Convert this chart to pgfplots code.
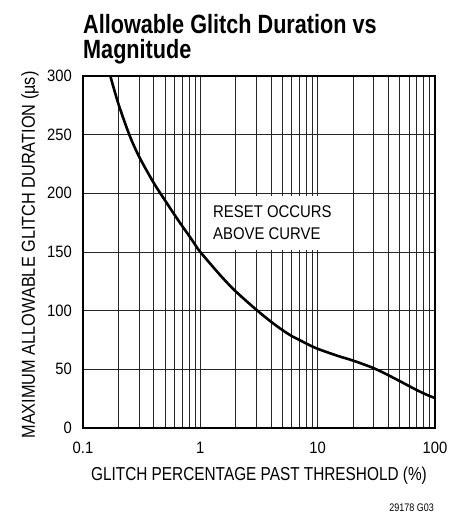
\documentclass[border=0pt]{standalone}
\usepackage{pgfplots}
\pgfplotsset{compat=1.18}
\usepackage{fontspec}
\setmainfont{Liberation Sans}[FakeStretch=0.82]
\newfontfamily\tickfont{Liberation Sans}[FakeStretch=0.9]
\newfontfamily\ylabfont{Liberation Sans}[FakeStretch=0.87]
\newfontfamily\notefont{Liberation Sans}[FakeStretch=0.88]

\begin{document}
\begin{tikzpicture}
\path[use as bounding box] (-83bp,-86bp) rectangle (380bp,428bp);
\begin{axis}[
 at={(0,0)}, anchor=south west,
 scale only axis, width=352bp, height=352bp,
 xmode=log, xmin=0.1, xmax=100, ymin=0, ymax=300,
 xtick={0.1,1,10,100}, xticklabels={0.1,1,10,100},
 minor xtick={0.2,0.3,0.4,0.5,0.6,0.7,0.8,0.9,2,3,4,5,6,7,8,9,20,30,40,50,60,70,80,90},
 ytick={0,50,100,150,200,250,300},
 grid=both,
 major grid style={black!85, line width=0.7bp},
 minor grid style={black!85, line width=0.7bp},
 major tick length=0pt, minor tick length=0pt,
 axis line style={black, line width=1.3bp},
 ticklabel style={font=\tickfont\fontsize{16.5}{16.5}\selectfont, inner sep=0pt},
 /pgf/number format/assume math mode=true,
 xticklabel style={anchor=base, yshift=-25bp},
 yticklabel style={anchor=east, xshift=-11bp},
]
\addplot[black, line width=2.6bp, smooth] coordinates {
(0.171,300) (0.2,276.5) (0.248,250) (0.3,231.5) (0.4,209) (0.5,194)
(0.6,182) (0.7,172.2) (0.8,164) (0.9,156.5) (1,150) (1.5,129.5) (2,116.5)
(3,100.8) (4,90.6) (5,83.5) (6,78.4) (7,75) (8,72) (10,67.5) (15,61.3)
(20,57.5) (30,51) (40,45) (50,40) (60,35.8) (70,32.3) (80,29.5) (90,27.3) (100,25.5)
};
\end{axis}
\fill[white] (121bp,178bp) rectangle (262bp,232bp);
\node[anchor=base west, font=\fontsize{26.5}{26.5}\selectfont\bfseries, inner sep=0pt] at (0bp,394.7bp) {Allowable Glitch Duration vs};
\node[anchor=base west, font=\fontsize{26.5}{26.5}\selectfont\bfseries, inner sep=0pt] at (0bp,369.7bp) {Magnitude};
\node[anchor=base west, font=\notefont\fontsize{17}{17}\selectfont, inner sep=0pt] at (130bp,210.3bp) {RESET OCCURS};
\node[anchor=base west, font=\notefont\fontsize{17}{17}\selectfont, inner sep=0pt] at (130bp,188bp) {ABOVE CURVE};
\node[anchor=base, font=\fontsize{18.8}{18.8}\selectfont, inner sep=0pt] at (176bp,-52bp) {GLITCH PERCENTAGE PAST THRESHOLD (\%)};
\node[anchor=base, rotate=90, font=\ylabfont\fontsize{18.8}{18.8}\selectfont, inner sep=0pt] at (-48bp,173bp) {MAXIMUM ALLOWABLE GLITCH DURATION (µs)};
\node[anchor=base east, font=\fontsize{11}{11}\selectfont, inner sep=0pt] at (351bp,-83bp) {29178 G03};
\end{tikzpicture}
\end{document}
